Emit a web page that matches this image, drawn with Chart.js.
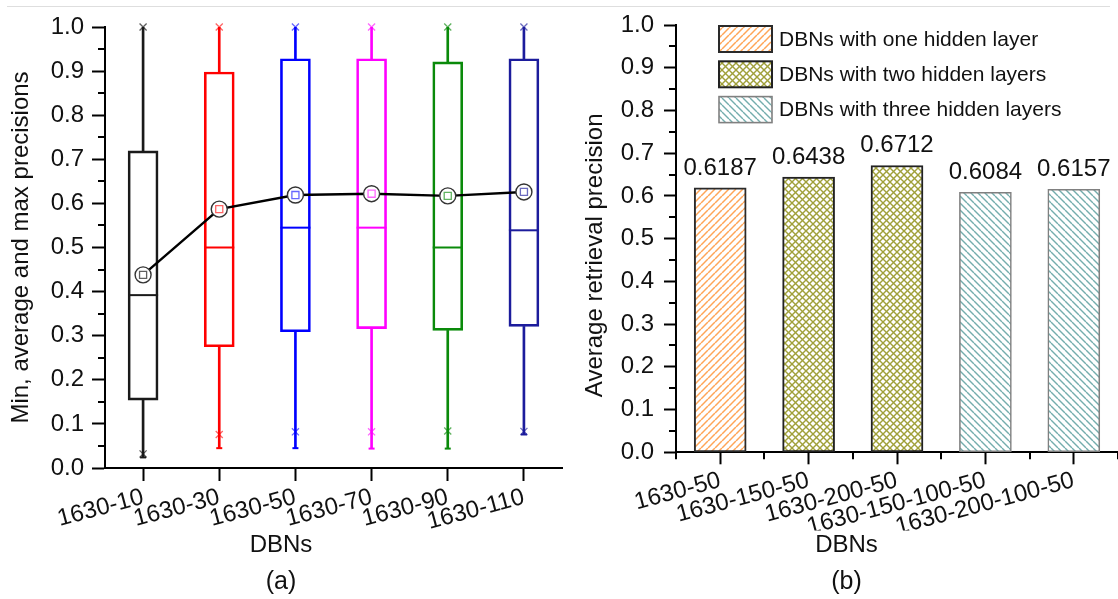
<!DOCTYPE html>
<html><head><meta charset="utf-8">
<script src="https://cdn.jsdelivr.net/npm/chart.js@4.4.0/dist/chart.umd.min.js"></script>
<style>
html,body{margin:0;padding:0;background:#fff;width:1118px;height:599px;overflow:hidden;position:relative;}
canvas{position:absolute;top:0;}
#topline{position:absolute;left:7px;top:6px;width:1103px;height:1px;background:#dedede;}
</style></head><body>
<div id="topline"></div>
<canvas id="c1" width="592" height="599" style="left:0;width:592px;height:599px"></canvas>
<canvas id="c2" width="628" height="599" style="left:575px;width:628px;height:599px"></canvas>
<script>
// ---------- data: box plot (a) ----------
const boxCategories = ['1630-10','1630-30','1630-50','1630-70','1630-90','1630-110'];
const boxQ1        = [0.154, 0.275, 0.309, 0.316, 0.312, 0.321];
const boxQ3        = [0.719, 0.898, 0.928, 0.928, 0.921, 0.928];
const boxMedian    = [0.392, 0.500, 0.545, 0.545, 0.500, 0.539];
const boxMean      = [0.438, 0.587, 0.619, 0.622, 0.617, 0.626];
const whiskerLow   = [0.024, 0.045, 0.045, 0.044, 0.044, 0.076];
const whiskerHigh  = [1.0, 1.0, 1.0, 1.0, 1.0, 1.0];
const markLow      = [0.032, 0.076, 0.082, 0.082, 0.084, 0.083];
const markHigh     = [1.0, 1.0, 1.0, 1.0, 1.0, 1.0];
const boxColors    = ['#1a1a1a','#ff0000','#0000ff','#ff00ff','#0a8a0a','#1c1c9c'];
const boxColorsSoft= ['rgba(26,26,26,0.7)','rgba(255,0,0,0.6)','rgba(0,0,255,0.6)','rgba(255,0,255,0.6)','rgba(10,138,10,0.65)','rgba(28,28,156,0.65)'];

// ---------- data: bar chart (b) ----------
const barCategories = ['1630-50','1630-150-50','1630-200-50','1630-150-100-50','1630-200-100-50'];
const oneHidden   = [0.6187, null, null, null, null];
const twoHidden   = [null, 0.6438, 0.6712, null, null];
const threeHidden = [null, null, null, 0.6084, 0.6157];
const seriesNames = ['DBNs with one hidden layer','DBNs with two hidden layers','DBNs with three hidden layers'];
const yTickValues = [0,0.1,0.2,0.3,0.4,0.5,0.6,0.7,0.8,0.9,1.0];

const FONT = "'Liberation Sans', Arial, sans-serif";
Chart.defaults.font.family = FONT;
Chart.defaults.color = '#111';

function makePattern(color, size, lw, dirs){
  const c = document.createElement('canvas'); c.width = size; c.height = size;
  const g = c.getContext('2d');
  g.fillStyle = '#fff'; g.fillRect(0,0,size,size);
  g.strokeStyle = color; g.lineWidth = lw;
  for (const d of dirs){
    for (let k=-1;k<=1;k++){
      g.beginPath();
      if (d === '/') { g.moveTo(k*size, size); g.lineTo(k*size+size, 0); }
      else { g.moveTo(k*size, 0); g.lineTo(k*size+size, size); }
      g.stroke();
    }
  }
  return document.createElement('canvas').getContext('2d').createPattern(c,'repeat');
}
const patOrange = makePattern('#ffa557', 7, 1.5, ['/']);
const patOlive  = makePattern('#a0a03a', 7, 1.4, ['/','\\']);
const patTeal   = makePattern('#74adad', 7, 1.4, ['\\']);

const minorTicks = {
  id:'minorTicks',
  afterDraw(chart, args, opts){
    const ctx = chart.ctx, y = chart.scales.y, x = chart.scales.x, ca = chart.chartArea;
    ctx.save(); ctx.strokeStyle = '#000'; ctx.lineWidth = 2;
    for (let i=0;i<yTickValues.length-1;i++){
      const v = (yTickValues[i]+yTickValues[i+1])/2;
      const py = Math.round(y.getPixelForValue(v));
      ctx.beginPath(); ctx.moveTo(ca.left-opts.len, py); ctx.lineTo(ca.left, py); ctx.stroke();
    }
    if (opts.xMinor){
      for (let i=-0.5;i<x.ticks.length;i+=1){
        const px = Math.round(x.getPixelForValue(i));
        ctx.beginPath(); ctx.moveTo(px, ca.bottom); ctx.lineTo(px, ca.bottom+opts.len); ctx.stroke();
      }
    }
    ctx.restore();
  }
};

function yAxis(title, width, titlePad, labelPad, tickLen){
  return {
    type:'linear', min:0, max:1,
    afterFit: s => { s.width = width; },
    afterBuildTicks: s => { s.ticks = yTickValues.map(v => ({value:v})); },
    ticks:{ callback: v => v.toFixed(1), font:{size:24}, color:'#111', padding:labelPad },
    grid:{ drawOnChartArea:false, drawTicks:true, tickLength:tickLen, tickWidth:2, tickColor:'#000' },
    border:{ display:true, width:2, color:'#000' },
    title:{ display:true, text:title, font:{size:24}, color:'#111', padding:{top:titlePad, bottom:0} }
  };
}
function xAxis(height, tickLen){
  return {
    type:'category', offset:true,
    afterFit: s => { s.height = height; },
    ticks:{ font:{size:24}, color:'#111', minRotation:15, maxRotation:15, autoSkip:false, padding:2 },
    grid:{ offset:false, drawOnChartArea:false, drawTicks:true, tickLength:tickLen, tickWidth:2, tickColor:'#000' },
    border:{ display:true, width:2, color:'#000' }
  };
}
function titles(sub, main){
  return {
    legend:{display:false}, tooltip:{enabled:false},
    subtitle:{ display:true, text:sub, position:'bottom', font:{size:24, weight:'normal'}, color:'#111', padding:{top:0,bottom:7.6} },
    title:{ display:true, text:main, position:'bottom', font:{size:25, weight:'normal'}, color:'#111', padding:{top:0,bottom:2} }
  };
}

// ---------- chart (a) ----------
new Chart(document.getElementById('c1'), {
  type:'bar',
  data:{
    labels: boxCategories,
    datasets:[
      { type:'bar', data: whiskerLow.map((v,i)=>[v, boxQ1[i]]), backgroundColor: boxColors, borderWidth:0, barThickness:2, grouped:false, order:7 },
      { type:'bar', data: boxQ3.map((v,i)=>[v, whiskerHigh[i]]), backgroundColor: boxColors, borderWidth:0, barThickness:2, grouped:false, order:7 },
      { type:'bar', data: boxQ1.map((v,i)=>[v, boxQ3[i]]), backgroundColor:'rgba(255,255,255,0)', borderColor: boxColors, borderWidth:2, borderSkipped:false, barThickness:30, grouped:false, order:6 },
      { type:'line', data: boxMedian, showLine:false, pointStyle:'line', pointRadius:15, pointBorderColor: boxColors, pointBorderWidth:2, order:5, clip:false },
      { type:'line', data: whiskerLow, showLine:false, pointStyle:'line', pointRadius:3, pointBorderColor: boxColors, pointBorderWidth:2, order:5, clip:false },
      { type:'line', data: markLow, showLine:false, pointStyle:'crossRot', pointRadius:5, pointBorderColor: boxColorsSoft, pointBorderWidth:1.3, order:4, clip:false },
      { type:'line', data: markHigh, showLine:false, pointStyle:'crossRot', pointRadius:5, pointBorderColor: boxColorsSoft, pointBorderWidth:1.3, order:4, clip:false },
      { type:'line', data: boxMean, borderColor:'#000', borderWidth:2.4, tension:0, pointStyle:'circle', pointRadius:8, pointBackgroundColor:'#fff', pointBorderColor:'#333', pointBorderWidth:1.4, order:2, clip:false },
      { type:'line', data: boxMean, showLine:false, pointStyle:'rect', pointRadius:5, pointBackgroundColor:'#fff', pointBorderColor: boxColorsSoft, pointBorderWidth:1.3, order:1, clip:false }
    ]
  },
  options:{
    responsive:false, animation:false, devicePixelRatio:1, events:[],
    layout:{ padding:{ top:27, right:30, left:0, bottom:0 } },
    scales:{ x: xAxis(62.6, 13), y: yAxis('Min, average and max precisions', 105, 7, 8, 13) },
    plugins: Object.assign(titles('DBNs','(a)'), { minorTicks:{ len:7, xMinor:false } })
  },
  plugins:[minorTicks]
});

// ---------- chart (b) ----------
const valueLabels = {
  id:'valueLabels',
  afterDatasetsDraw(chart){
    const ctx = chart.ctx; ctx.save();
    ctx.font = '24px ' + FONT; ctx.fillStyle = '#111'; ctx.textAlign = 'center'; ctx.textBaseline = 'alphabetic';
    chart.data.datasets.forEach((ds, di) => {
      chart.getDatasetMeta(di).data.forEach((el, i) => {
        const v = ds.data[i]; if (v == null) return;
        ctx.fillText(v.toFixed(4), el.x, el.y - 13);
      });
    });
    ctx.restore();
  }
};
const boxLegend = {
  id:'boxLegend',
  afterDraw(chart){
    const ctx = chart.ctx, ca = chart.chartArea; ctx.save();
    ctx.font = '21px ' + FONT;
    chart.data.datasets.forEach((ds, i) => {
      const bx = ca.left + 43, by = ca.top + 1 + i*35.3, bw = 53, bh = 26;
      ctx.fillStyle = ds.backgroundColor; ctx.fillRect(bx, by, bw, bh);
      ctx.lineWidth = ds.borderWidth; ctx.strokeStyle = ds.borderColor; ctx.strokeRect(bx, by, bw, bh);
      ctx.fillStyle = '#111'; ctx.textAlign = 'left'; ctx.textBaseline = 'middle';
      ctx.fillText(ds.label, bx + bw + 7, by + bh/2 + 1);
    });
    ctx.restore();
  }
};
new Chart(document.getElementById('c2'), {
  type:'bar',
  data:{
    labels: barCategories,
    datasets:[
      { label: seriesNames[0], data: oneHidden, backgroundColor: patOrange, borderColor:'#2a2a2a', borderWidth:2, borderSkipped:false, barThickness:52, grouped:false },
      { label: seriesNames[1], data: twoHidden, backgroundColor: patOlive, borderColor:'#222', borderWidth:2, borderSkipped:false, barThickness:52, grouped:false },
      { label: seriesNames[2], data: threeHidden, backgroundColor: patTeal, borderColor:'#808080', borderWidth:1.6, borderSkipped:false, barThickness:52, grouped:false }
    ]
  },
  options:{
    responsive:false, animation:false, devicePixelRatio:1, events:[],
    layout:{ padding:{ top:25, right:85, left:0, bottom:0 } },
    scales:{ x: xAxis(78.3, 12), y: yAxis('Average retrieval precision\u00A0\u00A0\u00A0\u00A0\u00A0', 101, 6, 10, 12) },
    plugins: Object.assign(titles('DBNs','(b)'), { minorTicks:{ len:7, xMinor:true } })
  },
  plugins:[minorTicks, valueLabels, boxLegend]
});
</script>
</body></html>
